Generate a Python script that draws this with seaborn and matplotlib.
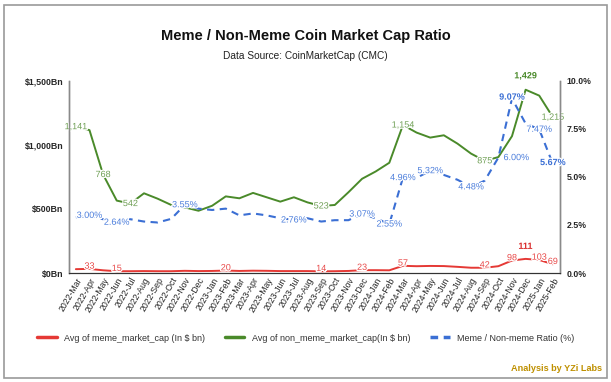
import pandas as pd
import matplotlib
matplotlib.use("Agg")
import matplotlib.pyplot as plt
import matplotlib.ticker as mtick
import matplotlib.patheffects as pe
from matplotlib.patches import Rectangle
from matplotlib.lines import Line2D
import seaborn as sns

# ================================
# DATA
# ================================
months = [
    "2022-Mar", "2022-Apr", "2022-May", "2022-Jun", "2022-Jul", "2022-Aug",
    "2022-Sep", "2022-Oct", "2022-Nov", "2022-Dec", "2023-Jan", "2023-Feb",
    "2023-Mar", "2023-Apr", "2023-May", "2023-Jun", "2023-Jul", "2023-Aug",
    "2023-Sep", "2023-Oct", "2023-Nov", "2023-Dec", "2024-Jan", "2024-Feb",
    "2024-Mar", "2024-Apr", "2024-May", "2024-Jun", "2024-Jul", "2024-Aug",
    "2024-Sep", "2024-Oct", "2024-Nov", "2024-Dec", "2025-Jan", "2025-Feb",
]
meme_cap = [31, 33, 22, 15, 15, 16, 15, 15, 18, 16, 17, 20,
            17, 19, 18, 16, 16, 16, 14, 15, 17, 23, 23, 22,
            57, 54, 56, 55, 49, 42, 42, 54, 98, 111, 103, 69]
non_meme_cap = [1141, 1114, 768, 565, 542, 622, 580, 531, 512, 486, 525, 598,
                583, 625, 591, 557, 591, 551, 523, 531, 630, 735, 792, 860,
                1154, 1095, 1056, 1074, 1009, 931, 875, 904, 1067, 1429, 1383, 1215]
ratio_pct = [2.90, 3.00, 2.80, 2.64, 2.80, 2.68, 2.63, 2.82, 3.55, 3.35, 3.28, 3.35,
             3.00, 3.10, 3.00, 2.85, 2.76, 2.85, 2.68, 2.75, 2.75, 3.07, 2.85, 2.55,
             4.96, 4.95, 5.32, 5.10, 4.85, 4.48, 4.80, 6.00, 9.07, 7.77, 7.47, 5.67]

# which points get a value label
meme_labels = [1, 3, 11, 18, 21, 24, 30, 32, 33, 34, 35]
non_meme_labels = [0, 2, 4, 18, 24, 30, 33, 35]
ratio_labels = [1, 3, 8, 16, 21, 23, 24, 26, 29, 31, 32, 34, 35]

df = pd.DataFrame({
    "month": months,
    "meme": meme_cap,
    "non_meme": non_meme_cap,
    "ratio": ratio_pct,
})

# ================================
# STYLE
# ================================
sns.set_style("white")
plt.rcParams["font.family"] = ["Liberation Sans", "DejaVu Sans"]

RED = "#e53935"
RED_TXT = "#e84a4a"
GREEN = "#4a8a2a"
GREEN_TXT = "#6f9f55"
BLUE = "#3b6fd4"
BLUE_TXT = "#4d7fdc"

halo = [pe.withStroke(linewidth=1.8, foreground="white")]

fig = plt.figure(figsize=(6.11, 3.82), dpi=100)
ax = fig.add_axes([0.113, 0.285, 0.803, 0.504])
ax2 = ax.twinx()

# ================================
# LINES
# ================================
sns.lineplot(data=df, x="month", y="meme", ax=ax, color=RED, linewidth=1.4, sort=False)
sns.lineplot(data=df, x="month", y="non_meme", ax=ax, color=GREEN, linewidth=1.4, sort=False)
sns.lineplot(data=df, x="month", y="ratio", ax=ax2, color=BLUE, linewidth=1.5, sort=False)
ax2.lines[0].set_dashes((3.5, 2.6))

ax.set_xlim(-0.5, len(months) - 0.5)
ax.set_ylim(0, 1500)
ax2.set_ylim(0, 10)
ax.set_yticks([0, 500, 1000, 1500])
ax2.set_yticks([0, 2.5, 5, 7.5, 10])
ax.yaxis.set_major_formatter(mtick.FuncFormatter(lambda v, p: "${:,.0f}Bn".format(v)))
ax2.yaxis.set_major_formatter(mtick.FuncFormatter(lambda v, p: "{:.1f}%".format(v)))

ax.set_xlabel("")
ax.set_ylabel("")
ax2.set_ylabel("")
ax.set_xticks(range(len(months)))
ax.set_xticklabels(months, rotation=60, ha="right", rotation_mode="anchor", fontsize=6.2)
ax.tick_params(axis="x", length=0, pad=2)
ax.tick_params(axis="y", length=0, pad=4, labelsize=6.3)
ax2.tick_params(axis="y", length=0, pad=5, labelsize=6.3)
for lab in ax.get_yticklabels() + ax2.get_yticklabels():
    lab.set_fontweight("bold")

for a in (ax, ax2):
    a.spines["top"].set_visible(False)
    a.spines["left"].set_color("#8a8a8a")
    a.spines["right"].set_color("#8a8a8a")
    a.spines["bottom"].set_color("#333333")
    a.spines["left"].set_linewidth(1.0)
    a.spines["right"].set_linewidth(1.0)

# ================================
# VALUE LABELS
# ================================
for i in meme_labels:
    v = meme_cap[i]
    bold = i == 33
    ax.annotate(str(v), (i, v), xytext=(0, 9 if bold else 2), textcoords="offset points",
                ha="center", va="center", fontsize=6.5, path_effects=halo,
                color="#d92b2b" if bold else RED_TXT, fontweight="bold" if bold else "normal")

for i in non_meme_labels:
    v = non_meme_cap[i]
    bold = i == 33
    ax.annotate("{:,}".format(v), (i, v), xytext=(0, 10 if bold else 0), textcoords="offset points",
                ha="center", va="center", fontsize=6.5, path_effects=halo,
                color=GREEN if bold else GREEN_TXT, fontweight="bold" if bold else "normal")

for i in ratio_labels:
    v = ratio_pct[i]
    bold = i in (32, 35)
    dx = 13 if i == 31 else 0
    ax2.annotate("{:.2f}%".format(v), (i, v), xytext=(dx, 1 if bold else 0), textcoords="offset points",
                 ha="center", va="center", fontsize=6.5, path_effects=halo,
                 color=BLUE if bold else BLUE_TXT, fontweight="bold" if bold else "normal")

# ================================
# TITLES, LEGEND, FRAME
# ================================
fig.text(0.5, 0.907, "Meme / Non-Meme Coin Market Cap Ratio", ha="center", va="center",
         fontsize=10.5, fontweight="bold", color="#111111")
fig.text(0.5, 0.853, "Data Source: CoinMarketCap (CMC)", ha="center", va="center",
         fontsize=7.3, color="#222222")

handles = [
    Line2D([], [], color=RED, linewidth=2.5),
    Line2D([], [], color=GREEN, linewidth=2.5),
    Line2D([], [], color=BLUE, linewidth=2.5, dashes=(2.2, 1.6)),
]
names = [
    "Avg of meme_market_cap (In $ bn)",
    "Avg of non_meme_market_cap(In $ bn)",
    "Meme / Non-meme Ratio (%)",
]
fig.legend(handles, names, loc="center", bbox_to_anchor=(0.5, 0.115), ncol=3, frameon=False,
           fontsize=6.5, handlelength=2.2, columnspacing=2.2, handletextpad=0.8,
           labelcolor="#333333")

fig.text(0.985, 0.035, "Analysis by YZi Labs", ha="right", va="center",
         fontsize=6.6, fontweight="bold", color="#bf9000")

fig.patches.append(Rectangle((0.007, 0.01), 0.986, 0.977, transform=fig.transFigure,
                             fill=False, edgecolor="#9a9a9a", linewidth=1.2))

fig.savefig("out.png", dpi=100)
